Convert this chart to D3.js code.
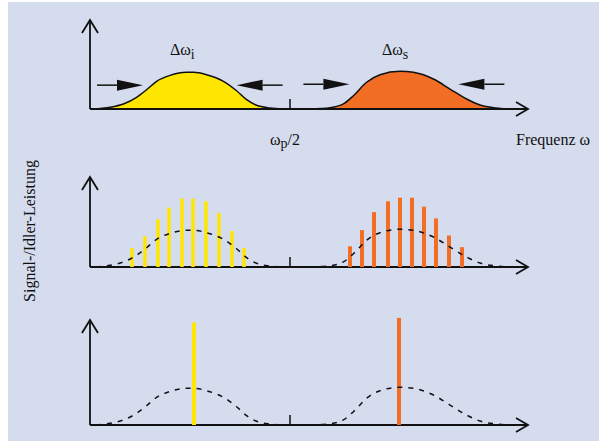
<!DOCTYPE html>
<html>
<head>
<meta charset="utf-8">
<script src="https://cdn.jsdelivr.net/npm/d3@7"></script>
<style>
  html, body { margin: 0; padding: 0; background: #fff; }
  svg { display: block; }
  text { font-family: "Liberation Serif", "Times New Roman", serif; fill: #111; }
</style>
</head>
<body>
<svg id="chart" width="599" height="441"></svg>
<script>
// frequency in units of omega_p/2 (tick at 1), power in arbitrary units

// spectral envelopes
var idlerEnvelope = [[0.03,0],[0.10,0.019],[0.167,0.056],[0.233,0.13],[0.283,0.214],[0.333,0.308],[0.40,0.374],
  [0.483,0.408],[0.517,0.408],[0.583,0.381],[0.667,0.308],[0.733,0.203],[0.783,0.103],[0.833,0.041],[0.90,0.011],[0.967,0]];
var signalEnvelope = [[1.10,0],[1.20,0.014],[1.267,0.056],[1.317,0.148],[1.383,0.297],[1.45,0.381],[1.55,0.419],
  [1.617,0.408],[1.717,0.333],[1.80,0.222],[1.883,0.111],[1.95,0.044],[2.033,0.011],[2.083,0]];

// bandwidth markers (arrow tips)
var idlerWidth = [0.265, 0.733];
var signalWidth = [1.297, 1.842];

// multimode lines (middle panel)
var idlerModes = [0.21, 0.275, 0.34, 0.395, 0.46, 0.515, 0.58, 0.645, 0.71, 0.77];
var idlerPower = [0.21, 0.34, 0.53, 0.66, 0.76, 0.76, 0.73, 0.60, 0.40, 0.21];
var signalModes = [1.30, 1.36, 1.42, 1.49, 1.55, 1.61, 1.67, 1.73, 1.795, 1.86];
var signalPower = [0.23, 0.41, 0.61, 0.73, 0.77, 0.77, 0.67, 0.54, 0.35, 0.22];

// single mode lines (bottom panel)
var singleModes = [0.52, 1.545];
var singlePower = [1.14, 1.19];

var yellow = "#ffe600", orange = "#f26e24", bg = "#d5dcee";

var svg = d3.select("#chart");
svg.append("rect").attr("x", 8).attr("y", 2).attr("width", 591).attr("height", 439).attr("fill", bg);

var x = d3.scaleLinear().domain([0, 2.19]).range([90, 528]);

// three panels: baseline, axis top
var panels = [
  {base: 109, top: 20},
  {base: 267, top: 177},
  {base: 425, top: 320}
];
panels.forEach(function(p){
  p.y = d3.scaleLinear().domain([0, 1]).range([p.base, p.base - 90]);
});

var line = function(y){
  return d3.line().x(function(d){ return x(d[0]); }).y(function(d){ return y(d[1]); }).curve(d3.curveMonotoneX);
};
var area = function(y){
  return d3.area().x(function(d){ return x(d[0]); }).y0(y(0)).y1(function(d){ return y(d[1]); }).curve(d3.curveMonotoneX);
};

function drawAxes(p){
  var g = svg.append("g").attr("fill", "none").attr("stroke", "#111").attr("stroke-width", 1.8);
  var x0 = x(0), x1 = x.range()[1];
  g.append("line").attr("x1", x0).attr("y1", p.base).attr("x2", x0).attr("y2", p.top);
  g.append("path").attr("d", "M" + (x0 - 8) + "," + (p.top + 13) + "L" + x0 + "," + p.top + "L" + (x0 + 8) + "," + (p.top + 13));
  g.append("line").attr("x1", x0).attr("y1", p.base).attr("x2", x1).attr("y2", p.base);
  g.append("path").attr("d", "M" + (x1 - 12) + "," + (p.base - 7) + "L" + x1 + "," + p.base + "L" + (x1 - 12) + "," + (p.base + 7));
  g.append("line").attr("x1", x(1)).attr("y1", p.base).attr("x2", x(1)).attr("y2", p.base - 10).attr("stroke-width", 1.5);
}

// ---------- top panel ----------
var p1 = panels[0];
[[idlerEnvelope, yellow], [signalEnvelope, orange]].forEach(function(s){
  svg.append("path").datum(s[0]).attr("d", area(p1.y)).attr("fill", s[1]);
  svg.append("path").datum(s[0]).attr("d", line(p1.y)).attr("fill", "none").attr("stroke", "#111").attr("stroke-width", 1.5);
});
drawAxes(p1);

function widthArrows(w, yv){
  var yy = p1.y(yv), len = 0.23;
  [[w[0], -1], [w[1], 1]].forEach(function(a){
    var tip = x(a[0]), tail = x(a[0] + a[1] * len), back = x(a[0] + a[1] * 0.13);
    svg.append("line").attr("x1", tail).attr("y1", yy).attr("x2", back).attr("y2", yy)
      .attr("stroke", "#111").attr("stroke-width", 1.5);
    svg.append("path").attr("d", "M" + tip + "," + yy + "L" + back + "," + (yy - 5.5) + "L" + back + "," + (yy + 5.5) + "Z")
      .attr("fill", "#111");
  });
}
widthArrows(idlerWidth, 0.265);
widthArrows(signalWidth, 0.275);

var lab1 = svg.append("text").attr("x", 170).attr("y", 55).attr("font-size", 16).text("Δω");
lab1.append("tspan").attr("font-size", 14).attr("dy", 4).text("i");
var lab2 = svg.append("text").attr("x", 382).attr("y", 55).attr("font-size", 16).text("Δω");
lab2.append("tspan").attr("font-size", 14).attr("dy", 4).text("s");
var lab3 = svg.append("text").attr("x", 270).attr("y", 145).attr("font-size", 16).text("ω");
lab3.append("tspan").attr("font-size", 14).attr("dy", 3).text("p");
lab3.append("tspan").attr("dy", -3).text("/2");
svg.append("text").attr("x", 516).attr("y", 145).attr("font-size", 16).text("Frequenz ω");

svg.append("text").attr("transform", "translate(35,231) rotate(-90)").attr("text-anchor", "middle")
  .attr("font-size", 16).text("Signal-/Idler-Leistung");

// ---------- middle panel ----------
var p2 = panels[1];
drawAxes(p2);
function bars(p, modes, power, color, w){
  svg.append("g").selectAll("rect").data(modes).enter().append("rect")
    .attr("x", function(d){ return x(d) - w / 2; })
    .attr("y", function(d, i){ return p.y(power[i]); })
    .attr("width", w)
    .attr("height", function(d, i){ return p.base - p.y(power[i]); })
    .attr("fill", color);
}
bars(p2, idlerModes, idlerPower, yellow, 3.5);
bars(p2, signalModes, signalPower, orange, 4);
[idlerEnvelope, signalEnvelope].forEach(function(e){
  svg.append("path").datum(e).attr("d", line(p2.y)).attr("fill", "none")
    .attr("stroke", "#111").attr("stroke-width", 1.5).attr("stroke-dasharray", "5,6");
});

// ---------- bottom panel ----------
var p3 = panels[2];
drawAxes(p3);
bars(p3, [singleModes[0]], [singlePower[0]], yellow, 4);
bars(p3, [singleModes[1]], [singlePower[1]], orange, 4);
[idlerEnvelope, signalEnvelope].forEach(function(e){
  svg.append("path").datum(e).attr("d", line(p3.y)).attr("fill", "none")
    .attr("stroke", "#111").attr("stroke-width", 1.5).attr("stroke-dasharray", "5,6");
});
</script>
</body>
</html>
